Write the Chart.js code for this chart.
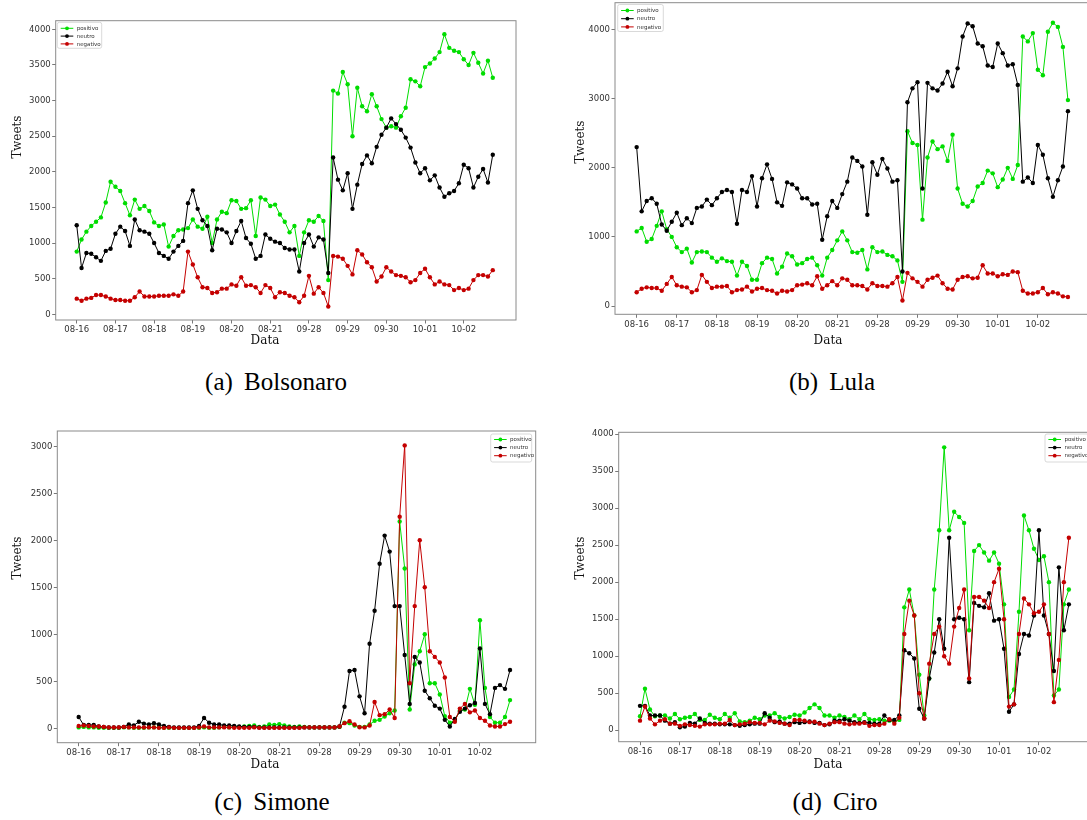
<!DOCTYPE html>
<html><head><meta charset="utf-8">
<script src="https://cdn.jsdelivr.net/npm/chart.js@4"></script>
<style>
html,body{margin:0;padding:0;width:1087px;height:820px;overflow:hidden;background:#fff;}
#wrap{position:relative;width:1087px;height:820px;overflow:hidden;}
canvas{position:absolute;}
.lbl{position:absolute;font-family:'DejaVu Serif',serif;font-size:12px;color:#111;white-space:nowrap;transform:translate(-50%,-50%);line-height:1;}
.rot{transform:translate(-50%,-50%) rotate(-90deg);}
.cap{position:absolute;font-family:'Liberation Serif','Times New Roman',serif;font-size:25px;color:#000;white-space:nowrap;transform:translate(-50%,-50%);word-spacing:5px;line-height:1;}
</style></head><body><div id="wrap">
<canvas id="ca" width="530" height="350" style="left:0;top:0"></canvas>
<canvas id="cb" width="545" height="350" style="left:560px;top:0"></canvas>
<canvas id="cc" width="550" height="360" style="left:0;top:420px"></canvas>
<canvas id="cd" width="545" height="360" style="left:560px;top:420px"></canvas>
<div class="lbl rot" style="left:17px;top:137px">Tweets</div>
<div class="lbl rot" style="left:580px;top:142px">Tweets</div>
<div class="lbl rot" style="left:17px;top:558px">Tweets</div>
<div class="lbl rot" style="left:580px;top:558px">Tweets</div>
<div class="lbl" style="left:265px;top:340px">Data</div>
<div class="lbl" style="left:828px;top:340px">Data</div>
<div class="lbl" style="left:265px;top:764px">Data</div>
<div class="lbl" style="left:828px;top:764px">Data</div>
<div class="cap" style="left:276px;top:381px">(a) Bolsonaro</div>
<div class="cap" style="left:832px;top:381px">(b) Lula</div>
<div class="cap" style="left:272px;top:801px">(c) Simone</div>
<div class="cap" style="left:835px;top:801px">(d) Ciro</div>
</div>
<script>
// x tick labels (days); samples every 3 hours starting at 08-16 00h
const dayLabels = ['08-16','08-17','08-18','08-19','08-20','08-21','09-28','09-29','09-30','10-01','10-02'];
const seriesNames = ['positivo','neutro','negativo'];
const yTicks500 = [0,500,1000,1500,2000,2500,3000,3500,4000];
const yTicks1000 = [0,1000,2000,3000,4000];
const yTicksC = [0,500,1000,1500,2000,2500,3000];

// (a) Bolsonaro
const posA = [880,1050,1160,1240,1300,1360,1570,1860,1790,1730,
1560,1390,1610,1480,1520,1450,1290,1240,1260,950,
1100,1180,1190,1210,1330,1230,1200,1370,1000,1330,
1440,1420,1600,1590,1480,1490,1600,1100,1640,1610,
1520,1540,1400,1300,1150,1240,820,1150,1320,1300,
1380,1310,480,3140,3100,3400,3230,2500,3180,2920,
2850,3090,2920,2740,2620,2640,2620,2780,2900,3300,
3270,3200,3470,3520,3590,3680,3930,3740,3700,3680,
3580,3500,3670,3530,3380,3560,3320];
const neuA = [1250,650,860,850,800,750,890,920,1130,1230,
1170,960,1330,1180,1160,1130,1000,860,820,780,
880,960,1030,1560,1740,1480,1320,1240,900,1200,
1190,1150,1000,1170,1310,1070,990,780,820,1120,
1060,1020,1000,930,910,910,600,1000,1120,950,
1080,1050,580,2200,1890,1740,1980,1480,1820,2110,
2230,2120,2350,2520,2620,2750,2670,2590,2480,2340,
2130,1980,2050,1880,1950,1780,1650,1700,1730,1840,
2100,2050,1780,1930,2040,1850,2240];
const negA = [220,190,220,230,270,270,250,220,200,200,
190,190,240,320,250,250,250,260,260,260,
280,260,320,880,700,520,380,370,300,310,
360,360,420,400,520,400,410,380,300,410,
370,240,310,300,260,240,170,260,540,290,
380,300,110,820,810,780,680,560,900,840,
730,660,460,530,660,600,550,540,520,450,
480,580,640,520,420,460,420,410,340,370,
340,360,480,550,550,530,620];

// (b) Lula
const posB = [1080,1130,930,970,1160,1370,1110,1000,850,780,
830,630,780,790,780,700,640,690,650,640,
440,640,580,380,380,620,700,680,470,570,
760,720,600,620,680,700,590,440,700,810,
950,1080,950,780,770,810,530,850,780,790,
740,720,660,350,2530,2360,2330,1250,2150,2380,
2270,2310,2100,2480,1700,1480,1440,1520,1730,1780,
1960,1920,1720,1830,2000,1840,2040,3900,3830,3950,
3420,3340,3970,4100,4040,3750,2980];
const neuB = [2300,1370,1520,1560,1480,1180,1090,1220,1350,1170,
1270,1200,1420,1440,1540,1460,1560,1650,1680,1650,
1190,1680,1650,1880,1440,1850,2050,1840,1500,1450,
1790,1760,1700,1560,1560,1470,1480,960,1300,1520,
1420,1620,1800,2150,2100,2020,1320,2080,1900,2130,
1990,1800,1820,500,2950,3150,3240,1700,3230,3150,
3120,3220,3390,3180,3440,3900,4090,4050,3800,3760,
3480,3460,3800,3660,3480,3500,3200,1800,1860,1780,
2330,2190,1850,1580,1820,2020,2820];
const negB = [200,250,270,260,260,220,320,420,300,280,
270,200,230,450,350,260,280,280,290,200,
230,240,280,210,250,260,230,220,180,220,
210,230,300,310,330,300,430,250,300,360,
300,400,380,300,300,290,240,330,290,290,
280,330,420,80,480,400,350,280,380,410,
440,330,250,240,380,420,430,400,410,590,
470,470,430,460,450,500,490,220,180,180,
200,260,170,200,180,140,130];

// (c) Simone
const posC = [10,15,10,10,5,5,5,5,5,10,
10,5,5,5,10,10,10,5,5,5,
5,5,5,5,5,10,5,5,10,15,
10,15,15,20,25,30,15,20,40,35,
45,30,20,15,20,15,10,10,10,10,
10,10,15,60,55,30,15,15,40,80,
90,125,160,190,2200,1700,200,680,820,1000,
480,480,360,130,60,80,190,200,420,250,
1150,430,120,60,60,120,300];
const neuC = [120,35,35,35,20,15,10,10,10,15,
40,30,70,50,40,55,40,25,15,10,
10,10,10,10,25,110,60,40,40,30,
30,25,20,15,15,15,10,10,10,10,
10,10,10,10,10,10,10,10,10,10,
10,10,20,230,610,620,340,160,900,1250,
1750,2050,1880,1300,1300,780,260,760,700,400,
320,240,210,90,20,100,175,210,245,270,
850,260,150,430,460,420,620];
const negC = [25,30,25,20,20,15,10,10,10,15,
10,10,10,10,10,10,5,5,10,5,
5,5,5,5,10,20,10,10,10,10,
10,5,5,5,5,10,5,5,5,5,
5,5,5,5,5,10,10,10,10,10,
10,10,20,55,75,40,12,10,30,280,
140,150,200,110,2250,3010,480,1300,2000,1500,
820,760,700,540,120,70,210,260,170,190,
110,80,30,20,20,45,70];

// (d) Ciro
const posD = [190,560,280,190,200,200,160,220,150,170,
180,220,140,140,210,170,150,220,170,230,
120,110,130,170,150,200,200,230,180,160,
180,210,200,240,300,350,300,200,200,170,
200,180,150,200,150,220,150,140,150,130,
130,120,140,1660,1900,1550,750,200,700,1900,
2700,3820,2700,2950,2880,2800,1350,2420,2500,2400,
2290,2400,2250,1700,450,550,1600,2900,2700,2450,
2300,2350,2000,470,550,1700,1900];
const neuD = [330,330,200,200,200,130,90,110,40,50,
100,90,160,100,90,90,80,80,80,70,
60,70,80,90,90,230,170,110,120,90,
90,110,100,110,120,100,100,70,80,130,
130,150,130,110,100,110,100,90,90,200,
140,140,200,1080,1040,970,290,160,700,1050,
1500,1100,2600,1500,1520,1500,650,1720,1680,1660,
1850,1480,1500,1100,250,350,1030,1300,1280,1550,
2700,1550,1300,800,2200,1350,1700];
const negD = [130,320,160,80,130,150,90,90,60,80,
70,60,50,80,80,80,90,90,140,70,
80,90,110,100,100,80,130,120,100,90,
70,140,140,130,110,115,90,70,90,110,
110,90,80,90,90,100,60,70,70,90,
150,90,170,1300,1750,1550,500,160,900,1300,
1400,1000,900,1400,1650,1900,700,1800,1800,1750,
1650,2000,2180,1500,320,350,1300,1780,1700,1580,
1600,1700,1300,380,950,2000,2600];

const times = posA.map((_, i) => i / 8); // day index of each 3-hour sample

const GREEN = '#00dd00', BLACK = '#000000', RED = '#c40000';
const TICKCOL = '#333333', MARKCOL = '#555555', FRAMECOL = '#8a8a8a';

const framePlugin = {
  id: 'frame',
  afterDatasetsDraw(chart) {
    const {ctx, chartArea: a} = chart;
    ctx.save();
    ctx.strokeStyle = FRAMECOL; ctx.lineWidth = 1;
    ctx.strokeRect(a.left, a.top, a.right - a.left, a.bottom - a.top);
    ctx.restore();
  }
};
const legendPlugin = {
  id: 'mplLegend',
  afterDraw(chart, args, o) {
    const {ctx} = chart;
    ctx.save();
    const r = 2;
    ctx.beginPath();
    ctx.moveTo(o.x + r, o.y);
    ctx.lineTo(o.x + o.w - r, o.y); ctx.quadraticCurveTo(o.x + o.w, o.y, o.x + o.w, o.y + r);
    ctx.lineTo(o.x + o.w, o.y + o.h - r); ctx.quadraticCurveTo(o.x + o.w, o.y + o.h, o.x + o.w - r, o.y + o.h);
    ctx.lineTo(o.x + r, o.y + o.h); ctx.quadraticCurveTo(o.x, o.y + o.h, o.x, o.y + o.h - r);
    ctx.lineTo(o.x, o.y + r); ctx.quadraticCurveTo(o.x, o.y, o.x + r, o.y);
    ctx.closePath();
    ctx.fillStyle = 'rgba(255,255,255,0.85)'; ctx.fill();
    ctx.strokeStyle = '#cfcfcf'; ctx.lineWidth = 0.8; ctx.stroke();
    ctx.font = '5.5px "DejaVu Sans"'; ctx.textBaseline = 'middle'; ctx.textAlign = 'left';
    chart.data.datasets.forEach((d, i) => {
      const yy = o.y + o.rows[i];
      ctx.strokeStyle = d.borderColor; ctx.lineWidth = 1;
      ctx.beginPath(); ctx.moveTo(o.x + 3.4, yy); ctx.lineTo(o.x + 16, yy); ctx.stroke();
      ctx.fillStyle = d.borderColor;
      ctx.beginPath(); ctx.arc(o.x + 9.7, yy, 1.9, 0, Math.PI * 2); ctx.fill();
      ctx.fillStyle = '#333';
      ctx.fillText(d.label, o.x + 19.4, yy + 0.3);
    });
    ctx.restore();
  }
};

function ds(label, vals, color, order) {
  return {
    label, order,
    data: vals.map((v, i) => ({x: times[i], y: v})),
    borderColor: color, backgroundColor: color,
    pointBackgroundColor: color, pointBorderWidth: 0, pointRadius: 2.2,
    borderWidth: 1, tension: 0
  };
}

function makeChart(id, c) {
  const tickFont = {family: 'DejaVu Sans', size: 8.5};
  const grid = {display: true, drawOnChartArea: false, drawTicks: true, tickLength: 3.5, color: MARKCOL, lineWidth: 0.8};
  return new Chart(document.getElementById(id), {
    type: 'line',
    data: {datasets: [
      ds(seriesNames[0], c.pos, GREEN, 3),
      ds(seriesNames[1], c.neu, BLACK, 2),
      ds(seriesNames[2], c.neg, RED, 1)
    ]},
    options: {
      responsive: false, animation: false, devicePixelRatio: 1,
      layout: {padding: c.pad, autoPadding: false},
      plugins: {legend: {display: false}, tooltip: {enabled: false}, mplLegend: c.legend},
      scales: {
        x: {
          type: 'linear', bounds: 'data', min: c.xmin, max: c.xmax,
          afterBuildTicks: s => { s.ticks = dayLabels.map((_, i) => ({value: i})); },
          ticks: {callback: v => dayLabels[v] ?? '', autoSkip: false, maxRotation: 0, padding: 1.5, color: TICKCOL, font: tickFont},
          grid, border: {display: false},
          afterFit: s => { s.height = c.xh; s.paddingLeft = 0; s.paddingRight = 0; }
        },
        y: {
          type: 'linear', bounds: 'data', min: c.ymin, max: c.ymax,
          afterBuildTicks: s => { s.ticks = c.yticks.map(v => ({value: v})); },
          ticks: {callback: v => String(v), autoSkip: false, padding: 1.5, color: TICKCOL, font: tickFont},
          grid, border: {display: false},
          afterFit: s => { s.width = c.yw; s.paddingTop = 0; s.paddingBottom = 0; }
        }
      }
    },
    plugins: [framePlugin, legendPlugin]
  });
}

makeChart('ca', {pos: posA, neu: neuA, neg: negA, xmin: -0.543, xmax: 11.35, ymin: -80, ymax: 4121, yticks: yTicks500,
  yw: 55.7, xh: 30, pad: {left: 0, top: 20.7, right: 14, bottom: 0},
  legend: {x: 57.3, y: 22.3, w: 44.4, h: 26, rows: [6, 13.8, 21.6]}});
makeChart('cb', {pos: posB, neu: neuB, neg: negB, xmin: -0.54, xmax: 11.35, ymin: -120, ymax: 4390, yticks: yTicks1000,
  yw: 55, xh: 35.7, pad: {left: 0, top: 2.7, right: 13, bottom: 0},
  legend: {x: 57.7, y: 4.5, w: 45.6, h: 27, rows: [6, 14.2, 22.4]}});
makeChart('cc', {pos: posC, neu: neuC, neg: negC, xmin: -0.533, xmax: 11.39, ymin: -153, ymax: 3163, yticks: yTicksC,
  yw: 57.3, xh: 37.3, pad: {left: 0, top: 11, right: 14.3, bottom: 0},
  legend: {x: 490.7, y: 14, w: 41, h: 28, rows: [5.5, 13.6, 21.7]}});
makeChart('cd', {pos: posD, neu: neuD, neg: negD, xmin: -0.534, xmax: 11.33, ymin: -154, ymax: 4023, yticks: yTicks500,
  yw: 58.7, xh: 38.3, pad: {left: 0, top: 12.3, right: 13, bottom: 0},
  legend: {x: 485, y: 14, w: 46, h: 28, rows: [5.5, 13.6, 21.7]}});
</script>
</body></html>
